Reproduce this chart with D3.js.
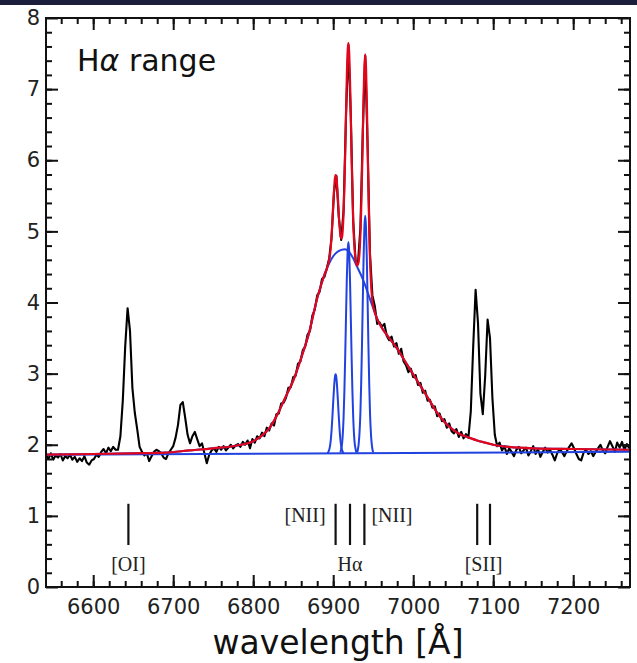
<!DOCTYPE html>
<html>
<head>
<meta charset="utf-8">
<script src="https://cdn.jsdelivr.net/npm/d3@7"></script>
<style>
  body { margin: 0; background: #ffffff; }
</style>
</head>
<body>
<div id="chart"></div>
<script>
// observed spectrum, uniform grid
const specStart = 6541;
const specStep = 3;
const specFlux = [
  1.86, 1.80, 1.88, 1.79, 1.85, 1.82, 1.87, 1.78, 1.84, 1.81,
  1.86, 1.79, 1.83, 1.76, 1.81, 1.77, 1.84, 1.75, 1.72, 1.78,
  1.80, 1.86, 1.83, 1.90, 1.94, 1.88, 1.96, 1.91, 1.97, 1.93,
  1.93, 2.12, 2.62, 3.38, 3.92, 3.60, 2.80, 2.45, 2.22, 1.97,
  1.90, 1.85, 1.88, 1.77, 1.84, 1.90, 1.93, 1.91, 1.88, 1.82,
  1.80, 1.88, 1.93, 1.98, 2.10, 2.28, 2.56, 2.60, 2.38, 2.14,
  2.02, 2.12, 2.18, 2.08, 1.98, 2.02, 1.88, 1.74, 1.86, 1.92,
  1.95, 1.90, 1.97, 1.93, 1.98, 1.92, 1.96, 2.00, 1.95, 1.99,
  2.01, 1.97, 2.04, 2.00, 2.06, 1.95, 2.08, 2.03, 2.12, 2.09,
  2.17, 2.12, 2.24, 2.20, 2.30, 2.27, 2.43, 2.44, 2.58, 2.59,
  2.66, 2.80, 2.81, 2.95, 2.97, 3.14, 3.17, 3.33, 3.38, 3.55,
  3.60, 3.82, 3.90, 4.10, 4.15, 4.33, 4.36, 4.48, 4.62, 4.92,
  5.55, 5.78, 5.20, 4.88, 5.30, 6.62, 7.62, 6.63, 5.15, 4.58,
  4.56, 5.05, 6.40, 7.47, 6.20, 4.68, 4.10, 3.95, 3.70, 3.72,
  3.66, 3.70, 3.53, 3.47, 3.52, 3.38, 3.43, 3.28, 3.35, 3.17,
  3.12, 3.02, 3.07, 2.95, 2.98, 2.84, 2.87, 2.73, 2.76, 2.62,
  2.63, 2.52, 2.54, 2.40, 2.44, 2.33, 2.36, 2.24, 2.30, 2.19,
  2.16, 2.22, 2.11, 2.18, 2.09, 2.15, 2.10, 2.47, 3.38, 4.18,
  3.71, 2.72, 2.43, 2.97, 3.76, 3.50, 2.66, 2.14, 1.98, 2.03,
  1.92, 1.98, 1.87, 1.95, 1.90, 1.84, 1.93, 1.97, 1.88, 1.92,
  1.96, 1.85, 1.91, 1.98, 1.87, 1.94, 1.83, 1.90, 1.96, 1.89,
  1.93, 1.86, 1.78, 1.88, 1.94, 1.90, 1.84, 1.91, 1.97, 2.02,
  1.95, 1.87, 1.80, 1.78, 1.89, 1.93, 1.87, 1.91, 1.84, 1.90,
  1.95, 2.00, 1.92, 1.88, 1.97, 2.05, 1.98, 1.90, 2.03, 1.96,
  2.04, 1.93, 2.01, 1.95
];

// broad component + continuum (blue)
const broadWave = [6541, 6600, 6650, 6690, 6720, 6750, 6780, 6800, 6810, 6820,
  6830, 6840, 6850, 6860, 6870, 6880, 6885, 6890, 6895, 6900, 6905, 6910, 6915,
  6920, 6925, 6930, 6935, 6940, 6945, 6950, 6955, 6960, 6970, 6980, 6990, 7000,
  7010, 7020, 7030, 7040, 7050, 7060, 7070, 7080, 7090, 7100, 7120, 7150, 7200, 7271];
const broadFlux = [1.86, 1.87, 1.88, 1.89, 1.92, 1.95, 1.99, 2.05, 2.12, 2.23,
  2.42, 2.66, 2.90, 3.22, 3.58, 4.06, 4.25, 4.42, 4.55, 4.65, 4.71, 4.74, 4.75,
  4.71, 4.62, 4.50, 4.38, 4.24, 4.08, 3.92, 3.77, 3.66, 3.50, 3.35, 3.17, 2.99,
  2.81, 2.63, 2.45, 2.31, 2.21, 2.14, 2.10, 2.06, 2.03, 2.00, 1.97, 1.95, 1.94, 1.93];

// total model (red)
const modelWave = [6541, 6600, 6650, 6690, 6720, 6750, 6780, 6800, 6810, 6820,
  6830, 6840, 6850, 6860, 6870, 6880, 6885, 6890,
  6892, 6893, 6894, 6895, 6896, 6897, 6898, 6899, 6900, 6901, 6902, 6903, 6904,
  6905, 6906, 6907, 6908, 6909, 6910, 6911, 6912, 6913, 6914, 6915, 6916, 6917,
  6918, 6919, 6920, 6921, 6922, 6923, 6924, 6925, 6926, 6927, 6928, 6929, 6930,
  6931, 6932, 6933, 6934, 6935, 6936, 6937, 6938, 6939, 6940, 6941, 6942, 6943,
  6944, 6945, 6946, 6947, 6948, 6949, 6950, 6951, 6952,
  6955, 6960, 6970, 6980, 6990, 7000, 7010, 7020, 7030, 7040, 7050, 7060, 7070,
  7080, 7090, 7100, 7120, 7150, 7200, 7271];
const modelFlux = [1.86, 1.87, 1.88, 1.89, 1.92, 1.95, 1.99, 2.05, 2.12, 2.23,
  2.42, 2.66, 2.90, 3.22, 3.58, 4.06, 4.25, 4.42,
  4.47, 4.51, 4.55, 4.60, 4.67, 4.78, 4.94, 5.14, 5.37, 5.57, 5.73, 5.79, 5.76,
  5.62, 5.44, 5.23, 5.07, 4.94, 4.90, 4.92, 5.03, 5.27, 5.63, 6.11, 6.65, 7.16,
  7.52, 7.65, 7.51, 7.13, 6.61, 6.05, 5.55, 5.15, 4.88, 4.71, 4.60, 4.54, 4.52,
  4.54, 4.59, 4.72, 4.95, 5.32, 5.80, 6.36, 6.92, 7.31, 7.49, 7.31, 6.85, 6.23,
  5.61, 5.06, 4.62, 4.33, 4.14, 4.02, 3.95, 3.90, 3.86,
  3.77, 3.66, 3.50, 3.35, 3.17, 2.99, 2.81, 2.63, 2.45, 2.31, 2.21, 2.14, 2.10,
  2.06, 2.03, 2.00, 1.97, 1.95, 1.94, 1.93];

// continuum (blue)
const contWave = [6541, 7271];
const contFlux = [1.86, 1.90];

// narrow components (blue)
const nii1Wave = [6893, 6894, 6895, 6896, 6897, 6898, 6899, 6900, 6901, 6902, 6903,
  6904, 6905, 6906, 6907, 6908, 6909, 6910, 6911, 6912, 6913];
const nii1Flux = [1.88, 1.90, 1.93, 1.98, 2.07, 2.21, 2.39, 2.60, 2.79, 2.94, 2.99,
  2.94, 2.79, 2.60, 2.39, 2.21, 2.07, 1.98, 1.93, 1.90, 1.88];
const haWave = [6909, 6910, 6911, 6912, 6913, 6914, 6915, 6916, 6917, 6918, 6919,
  6920, 6921, 6922, 6923, 6924, 6925, 6926, 6927, 6928, 6929];
const haFlux = [1.89, 1.94, 2.01, 2.15, 2.39, 2.76, 3.24, 3.79, 4.32, 4.71, 4.85,
  4.71, 4.32, 3.79, 3.24, 2.76, 2.39, 2.15, 2.01, 1.94, 1.89];
const nii2Wave = [6930, 6931, 6932, 6933, 6934, 6935, 6936, 6937, 6938, 6939, 6940,
  6941, 6942, 6943, 6944, 6945, 6946, 6947, 6948, 6949, 6950];
const nii2Flux = [1.89, 1.94, 2.03, 2.19, 2.45, 2.87, 3.41, 4.03, 4.63, 5.06, 5.22,
  5.06, 4.63, 4.03, 3.41, 2.87, 2.45, 2.19, 2.03, 1.94, 1.89];

// line identification marks
const markWave = [6644, 6903, 6921, 6939, 7080, 7096];
const markLow = 0.59;
const markHigh = 1.17;
const labelText = ["[OI]", "[NII]", "H\u03b1", "[NII]", "[SII]"];
const labelWave = [6644, 6903, 6921, 6939, 7088];

const waveTicks = [6600, 6700, 6800, 6900, 7000, 7100, 7200];
const fluxTicks = [0, 1, 2, 3, 4, 5, 6, 7, 8];

const width = 637;
const height = 663;
const margin = { top: 18, right: 7, bottom: 76, left: 46 };

const svg = d3
  .select("#chart")
  .append("svg")
  .attr("width", width)
  .attr("height", height)
  .style("display", "block");

svg.append("rect")
  .attr("x", 0).attr("y", 0)
  .attr("width", width).attr("height", 5)
  .attr("fill", "#1d1e3b");

const x = d3.scaleLinear().domain([6541, 7271]).range([margin.left, width - margin.right]);
const y = d3.scaleLinear().domain([0, 8]).range([height - margin.bottom, margin.top]);

svg.append("clipPath").attr("id", "plot")
  .append("rect")
  .attr("x", margin.left).attr("y", margin.top)
  .attr("width", x.range()[1] - x.range()[0])
  .attr("height", y.range()[0] - y.range()[1]);

const zip = (w, f) => w.map((d, i) => [d, f[i]]);
const spec = specFlux.map((f, i) => [specStart + i * specStep, f]);

const line = d3.line().x((d) => x(d[0])).y((d) => y(d[1]));
const smooth = d3.line().curve(d3.curveMonotoneX).x((d) => x(d[0])).y((d) => y(d[1]));

const plot = svg.append("g").attr("clip-path", "url(#plot)").attr("fill", "none");

plot.append("path")
  .attr("d", line(spec))
  .attr("stroke", "#000")
  .attr("stroke-width", 2.1)
  .attr("stroke-linejoin", "round");

const blue = "#2142e0";
[zip(contWave, contFlux), zip(nii1Wave, nii1Flux), zip(haWave, haFlux),
 zip(nii2Wave, nii2Flux), zip(broadWave, broadFlux)].forEach((s) => {
  plot.append("path")
    .attr("d", smooth(s))
    .attr("stroke", blue)
    .attr("stroke-width", 2);
});

plot.append("path")
  .attr("d", smooth(zip(modelWave, modelFlux)))
  .attr("stroke", "#e2061c")
  .attr("stroke-width", 2.2)
  .attr("stroke-linejoin", "round");

// axes with inward ticks on all sides
function styleAxis(g) {
  g.select(".domain").remove();
  g.selectAll(".tick line").attr("stroke", "#111").attr("stroke-width", 2);
  g.selectAll(".tick text")
    .attr("fill", "#222")
    .style("font-family", "'DejaVu Sans', sans-serif")
    .style("font-size", "21px");
}

const minorWave = d3.range(6560, 7271, 20);
const minorFlux = d3.range(0.2, 8, 0.2);
const yb = y.range()[0], yt = y.range()[1];
const xl = x.range()[0], xr = x.range()[1];

svg.append("g").attr("transform", `translate(0,${yb})`)
  .call(d3.axisBottom(x).tickValues(waveTicks).tickFormat(d3.format("d"))
    .tickSizeInner(-12).tickSizeOuter(0).tickPadding(12))
  .call(styleAxis);
svg.append("g").attr("transform", `translate(0,${yb})`)
  .call(d3.axisBottom(x).tickValues(minorWave).tickSizeInner(-6).tickSizeOuter(0).tickFormat(""))
  .call(styleAxis);
svg.append("g").attr("transform", `translate(0,${yt})`)
  .call(d3.axisTop(x).tickValues(waveTicks).tickSizeInner(-12).tickSizeOuter(0).tickFormat(""))
  .call(styleAxis);
svg.append("g").attr("transform", `translate(0,${yt})`)
  .call(d3.axisTop(x).tickValues(minorWave).tickSizeInner(-6).tickSizeOuter(0).tickFormat(""))
  .call(styleAxis);

svg.append("g").attr("transform", `translate(${xl},0)`)
  .call(d3.axisLeft(y).tickValues(fluxTicks).tickFormat(d3.format("d"))
    .tickSizeInner(-12).tickSizeOuter(0).tickPadding(6))
  .call(styleAxis);
svg.append("g").attr("transform", `translate(${xl},0)`)
  .call(d3.axisLeft(y).tickValues(minorFlux).tickSizeInner(-6).tickSizeOuter(0).tickFormat(""))
  .call(styleAxis);
svg.append("g").attr("transform", `translate(${xr},0)`)
  .call(d3.axisRight(y).tickValues(fluxTicks).tickSizeInner(-12).tickSizeOuter(0).tickFormat(""))
  .call(styleAxis);
svg.append("g").attr("transform", `translate(${xr},0)`)
  .call(d3.axisRight(y).tickValues(minorFlux).tickSizeInner(-6).tickSizeOuter(0).tickFormat(""))
  .call(styleAxis);

svg.append("rect")
  .attr("x", xl).attr("y", yt)
  .attr("width", xr - xl).attr("height", yb - yt)
  .attr("fill", "none")
  .attr("stroke", "#111")
  .attr("stroke-width", 2);

// line marks
svg.append("g").selectAll("line")
  .data(markWave)
  .join("line")
  .attr("x1", (d) => x(d)).attr("x2", (d) => x(d))
  .attr("y1", y(markLow)).attr("y2", y(markHigh))
  .attr("stroke", "#111")
  .attr("stroke-width", 2.2);

const labelPos = [
  { dx: 0, v: 0.225, anchor: "middle" },
  { dx: -10, v: 0.91, anchor: "end" },
  { dx: 0, v: 0.225, anchor: "middle" },
  { dx: 7, v: 0.91, anchor: "start" },
  { dx: 0, v: 0.225, anchor: "middle" }
];
svg.append("g").selectAll("text")
  .data(labelText)
  .join("text")
  .attr("x", (d, i) => x(labelWave[i]) + labelPos[i].dx)
  .attr("y", (d, i) => y(labelPos[i].v))
  .attr("text-anchor", (d, i) => labelPos[i].anchor)
  .style("font-family", "'Liberation Serif', 'DejaVu Serif', serif")
  .style("font-size", "20px")
  .attr("fill", "#222")
  .text((d) => d);

// title
const title = svg.append("text")
  .attr("x", 77).attr("y", 71)
  .style("font-family", "'DejaVu Sans', sans-serif")
  .style("font-size", "30px")
  .attr("fill", "#111");
title.append("tspan").text("H");
title.append("tspan").style("font-style", "italic").text("\u03b1");
title.append("tspan").text(" range");

// x label
svg.append("text")
  .attr("x", (xl + xr) / 2).attr("y", 654)
  .attr("text-anchor", "middle")
  .style("font-family", "'DejaVu Sans', sans-serif")
  .style("font-size", "33px")
  .attr("fill", "#111")
  .text("wavelength [\u00c5]");
</script>
</body>
</html>
